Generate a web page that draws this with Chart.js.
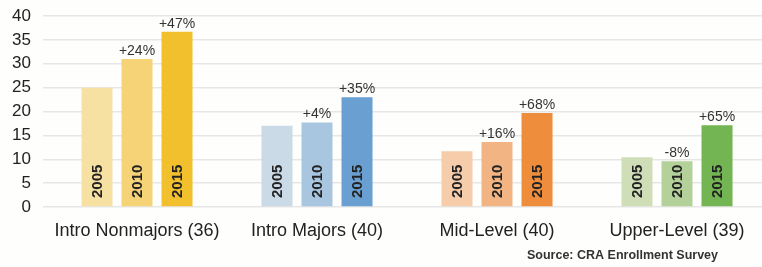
<!DOCTYPE html>
<html>
<head>
<meta charset="utf-8">
<script src="https://cdn.jsdelivr.net/npm/chart.js@4"></script>
<style>
  html, body { margin: 0; padding: 0; background: #fefefc; }
  #wrap { width: 762px; height: 267px; position: relative; }
</style>
</head>
<body>
<div id="wrap"><canvas id="myChart"></canvas></div>
<script>
/* data */
const categories = ['Intro Nonmajors (36)', 'Intro Majors (40)', 'Mid-Level (40)', 'Upper-Level (39)'];
const years = ['2005', '2010', '2015'];
const values2005 = [25, 17, 11.7, 10.4];
const values2010 = [31, 17.7, 13.6, 9.6];
const values2015 = [36.7, 23, 19.7, 17.1];
const growth2010 = ['+24%', '+4%', '+16%', '-8%'];
const growth2015 = ['+47%', '+35%', '+68%', '+65%'];
const yTicks = [0, 5, 10, 15, 20, 25, 30, 35, 40];
const sourceNote = 'Source: CRA Enrollment Survey';

/* colours per category, light to dark */
const colors2005 = ['#f7e1a2', '#cadae7', '#f6ccab', '#d0deb8'];
const colors2010 = ['#f5d376', '#a9c6e0', '#f3b483', '#b4d199'];
const colors2015 = ['#f2c02c', '#6a9fd1', '#ee8d3b', '#73b552'];

const FONT = '"Liberation Sans", Arial, Helvetica, sans-serif';

/* draws years inside bars, growth above bars and the source note */
const labelPlugin = {
  id: 'labelPlugin',
  afterDatasetsDraw: function(chart){
    const ctx = chart.ctx;
    const bottom = chart.chartArea.bottom;
    const growth = [null, growth2010, growth2015];
    chart.data.datasets.forEach(function(ds, i){
      const meta = chart.getDatasetMeta(i);
      meta.data.forEach(function(bar, j){
        ctx.save();
        ctx.translate(bar.x, bottom - 9);
        ctx.rotate(-Math.PI / 2);
        ctx.font = 'bold 15px ' + FONT;
        ctx.fillStyle = '#222';
        ctx.textAlign = 'left';
        ctx.textBaseline = 'middle';
        ctx.fillText(years[i], 0, 1);
        ctx.restore();

        if(growth[i]){
          ctx.save();
          ctx.font = '14px ' + FONT;
          ctx.fillStyle = '#333';
          ctx.textAlign = 'center';
          ctx.textBaseline = 'alphabetic';
          ctx.fillText(growth[i][j], bar.x, bar.y - 4);
          ctx.restore();
        }
      });
    });

    ctx.save();
    ctx.font = 'bold 12.5px ' + FONT;
    ctx.fillStyle = '#333';
    ctx.textAlign = 'right';
    ctx.textBaseline = 'alphabetic';
    ctx.fillText(sourceNote, 718, 259);
    ctx.restore();
  },
};

/* the category band runs a little past the right edge in the original */
const widenX = {
  id: 'widenX',
  afterLayout: function(chart){
    const x = chart.scales.x;
    x.right = x.left + 720;
    x.width = 720;
    x.configure();
  },
};

const bgPlugin = {
  id: 'bgPlugin',
  beforeDraw: function(chart){
    const ctx = chart.ctx;
    ctx.save();
    ctx.fillStyle = '#fefefc';
    ctx.fillRect(0, 0, chart.width, chart.height);
    ctx.restore();
  },
};

const ctx = document.getElementById('myChart').getContext('2d');
const chart = new Chart(ctx, {
  type: 'bar',
  data: {
    labels: categories,
    datasets: [
      { label: years[0], data: values2005, backgroundColor: colors2005 },
      { label: years[1], data: values2010, backgroundColor: colors2010 },
      { label: years[2], data: values2015, backgroundColor: colors2015 },
    ],
  },
  options: {
    responsive: true,
    maintainAspectRatio: false,
    animation: false,
    barPercentage: 0.775,
    categoryPercentage: 0.667,
    layout: { padding: { top: 16, right: 0, left: 0, bottom: 0 } },
    plugins: {
      legend: { display: false },
      tooltip: { enabled: false },
    },
    scales: {
      x: {
        grid: { display: false, drawTicks: false },
        border: { display: false },
        ticks: {
          font: { family: FONT, size: 18 },
          color: '#222',
          padding: 13,
          maxRotation: 0,
        },
        afterFit: function(scale){ scale.height = 60; },
      },
      y: {
        min: 0,
        max: 40,
        afterBuildTicks: function(scale){
          scale.ticks = yTicks.map(function(v){ return { value: v }; });
        },
        grid: { color: '#e6e6e6', lineWidth: 1.5, drawTicks: true, tickLength: 4 },
        border: { display: false },
        ticks: {
          font: { family: FONT, size: 17 },
          color: '#222',
          padding: 12,
          autoSkip: false,
        },
        afterFit: function(scale){
          scale.width = 47;
          scale.paddingTop = 0;
          scale.paddingBottom = 0;
        },
      },
    },
  },
  plugins: [bgPlugin, widenX, labelPlugin],
});
</script>
</body>
</html>
